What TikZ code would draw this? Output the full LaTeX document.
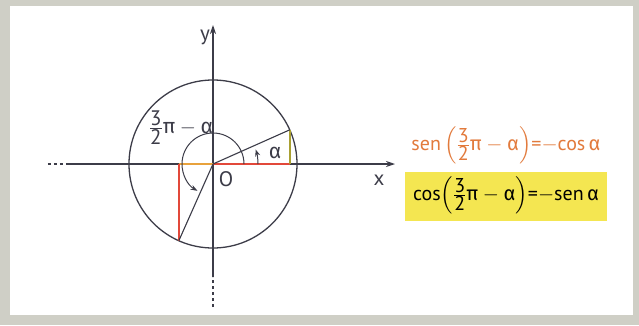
\documentclass[tikz,border=0pt]{standalone}
\usepackage{amsmath}
\usepackage{fontspec}
\setmainfont{PT Sans}
\newfontfamily\grk{Fira Sans}
\usetikzlibrary{arrows.meta, calc}
\definecolor{framegray}{HTML}{CFCFC6}
\definecolor{cosred}{HTML}{E2483A}
\definecolor{sinolive}{HTML}{A9A032}
\definecolor{sinorange}{HTML}{E8A23C}
\definecolor{senorange}{HTML}{E27A3C}
\definecolor{hilite}{HTML}{F4E651}
\definecolor{axisgray}{HTML}{3C3C48}
\newcommand{\alf}{\mbox{\grk α}}
\newcommand{\piv}{\mbox{\grk π}}
\newcommand{\tq}{\genfrac{}{}{0.9pt}{1}{\mbox{3}}{\mbox{2}}}

\begin{document}
\begin{tikzpicture}[
    x=1pt, y=1pt,
    axis/.style={draw=axisgray, line width=1.1pt},
    seg/.style={line width=1.6pt, draw=#1},
    turn/.style={-{Stealth[length=7pt, width=5pt]}, draw=axisgray, line width=1pt},
    lbl/.style={font=\fontsize{21}{24}\selectfont, text=axisgray, inner sep=1pt},
    formula/.style={font=\fontsize{20}{24}\selectfont, text=#1, inner sep=1pt},
]
    % Frame
    \fill[framegray] (-213,-161) rectangle (426,164);
    \fill[white] (-203,158) rectangle (420,-151);
    \useasboundingbox (-213,-161) rectangle (426,164);

    % Points
    \coordinate (O) at (0,0);
    \coordinate (P) at (24:84);
    \coordinate (Q) at (246:84);
    \coordinate (Px) at (P |- O);
    \coordinate (Qx) at (Q |- O);

    % Axes
    \coordinate (xdash) at (-165,0);
    \coordinate (xstart) at (-144,0);
    \coordinate (xend) at (182,0);
    \coordinate (ydash) at (0,-143);
    \coordinate (ystart) at (0,-113);
    \coordinate (yend) at (0,139);
    \draw[axis, dashed] (xdash) -- (xstart);
    \draw[axis, -{Stealth[length=9pt, width=6pt]}] (xstart) -- (xend);
    \draw[axis, dashed] (ydash) -- (ystart);
    \draw[axis, -{Stealth[length=9pt, width=6pt]}] (ystart) -- (yend);

    % Circle
    \draw[axis, line width=1.3pt] (O) circle[radius=84];

    % Projections
    \draw[seg=cosred] (O) -- (Px);
    \draw[seg=sinolive] (Px) -- (P);
    \draw[seg=sinorange] (Qx) -- (O);
    \draw[seg=cosred] (Qx) -- (Q);

    % Rays
    \draw[axis] (O) -- (P);
    \draw[axis] (O) -- (Q);

    % Angles
    \draw[turn] (31,0) arc[start angle=0, end angle=240, radius=31];
    \draw[turn] (45,0) arc[start angle=0, end angle=19, radius=45];

    % Labels
    \node[lbl] (ylab) at (-8,127) {y};
    \node[lbl] (xlab) at (166,-16) {x};
    \node[lbl] (olab) at (13,-15) {O};
    \node[lbl] (alab) at (62,11) {\alf};
    \node[lbl] (anglab) at (-32,36) {$\tq\piv-\alf$};

    % Formulas
    \node[formula=senorange] (senf) at (293,19)
        {sen\,$\left(\tq\piv-\alf\right)$=$-$cos\,\alf};
    \fill[hilite] (192,-8) rectangle (394,-57);
    \node[formula=black] (cosf) at (293,-31)
        {cos$\left(\tq\piv-\alf\right)$=$-$sen\,\alf};

\end{tikzpicture}
\end{document}
